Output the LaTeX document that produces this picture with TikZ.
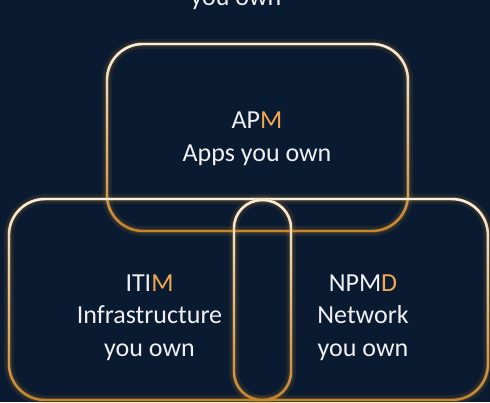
\documentclass[tikz,border=0pt]{standalone}
\usepackage{fontspec}
\setmainfont{Carlito}
\usepackage{tikz}
\usetikzlibrary{positioning,calc,fadings}

\definecolor{navy}{HTML}{0A1A30}
\definecolor{gold}{HTML}{C8862A}
\definecolor{amber}{HTML}{F2A84E}
\definecolor{cream}{HTML}{F6F1E8}
\definecolor{snow}{HTML}{F0F0F0}

\begin{document}
\begin{tikzpicture}[x=1pt,y=-1pt,
  txt/.style={anchor=base, inner sep=0pt, text=snow,
              font=\fontsize{26}{32}\selectfont},
  glowwide/.style={gold, opacity=0.10, line width=10pt},
  glownarrow/.style={gold, opacity=0.18, line width=5pt},
  edgebase/.style={gold, line width=2.4pt},
  edgetop/.style={cream, line width=2.4pt, path fading=south}]

% Figure parameters (in pixels of the reference picture)
% (y runs downwards here, so the fading is named "south")
\def \rbox{36} % corner radius of the two boxes
\def \rpill{28} % corner radius of the pill

% Canvas
\useasboundingbox (0,0) rectangle (490,402);
\clip (0,0) rectangle (490,402);
\fill[navy] (0,0) rectangle (490,402);

% Corners of the three outlines
\coordinate (apmNW)  at (107,44);
\coordinate (apmSE)  at (408,231);
\coordinate (lowNW)  at (9,199);
\coordinate (lowSE)  at (488,400);
\coordinate (pillNW) at (234,200);
\coordinate (pillSE) at (291,400);

% Glow round the outlines
\foreach \a/\b/\rr in {apmNW/apmSE/\rbox, lowNW/lowSE/\rbox, pillNW/pillSE/\rpill}{
  \draw[glowwide,   rounded corners=\rr pt] (\a) rectangle (\b);
  \draw[glownarrow, rounded corners=\rr pt] (\a) rectangle (\b);
}

% Outlines: orange below, fading to cream at the top
\foreach \a/\b/\rr in {apmNW/apmSE/\rbox, lowNW/lowSE/\rbox, pillNW/pillSE/\rpill}{
  \draw[edgebase, rounded corners=\rr pt] (\a) rectangle (\b);
  \draw[edgetop,  rounded corners=\rr pt] (\a) rectangle (\b);
}

% Texts (the first one is cut by the top edge, as in the original)
\node[txt] (topline)   at (236,5)     {you own};

\node[txt] (apmname)   at (257,128)   {AP\textcolor{amber}{M}};
\node[txt] (apmline)   at (257,161)   {Apps you own};

\node[txt] (itimname)  at (149.5,291) {ITI\textcolor{amber}{M}};
\node[txt] (itimlinea) at (149.5,323.5) {Infrastructure};
\node[txt] (itimlineb) at (149.5,356) {you own};

\node[txt] (npmdname)  at (363,291)   {NPM\textcolor{amber}{D}};
\node[txt] (npmdlinea) at (363,323.5) {Network};
\node[txt] (npmdlineb) at (363,356)   {you own};
\end{tikzpicture}
\end{document}
